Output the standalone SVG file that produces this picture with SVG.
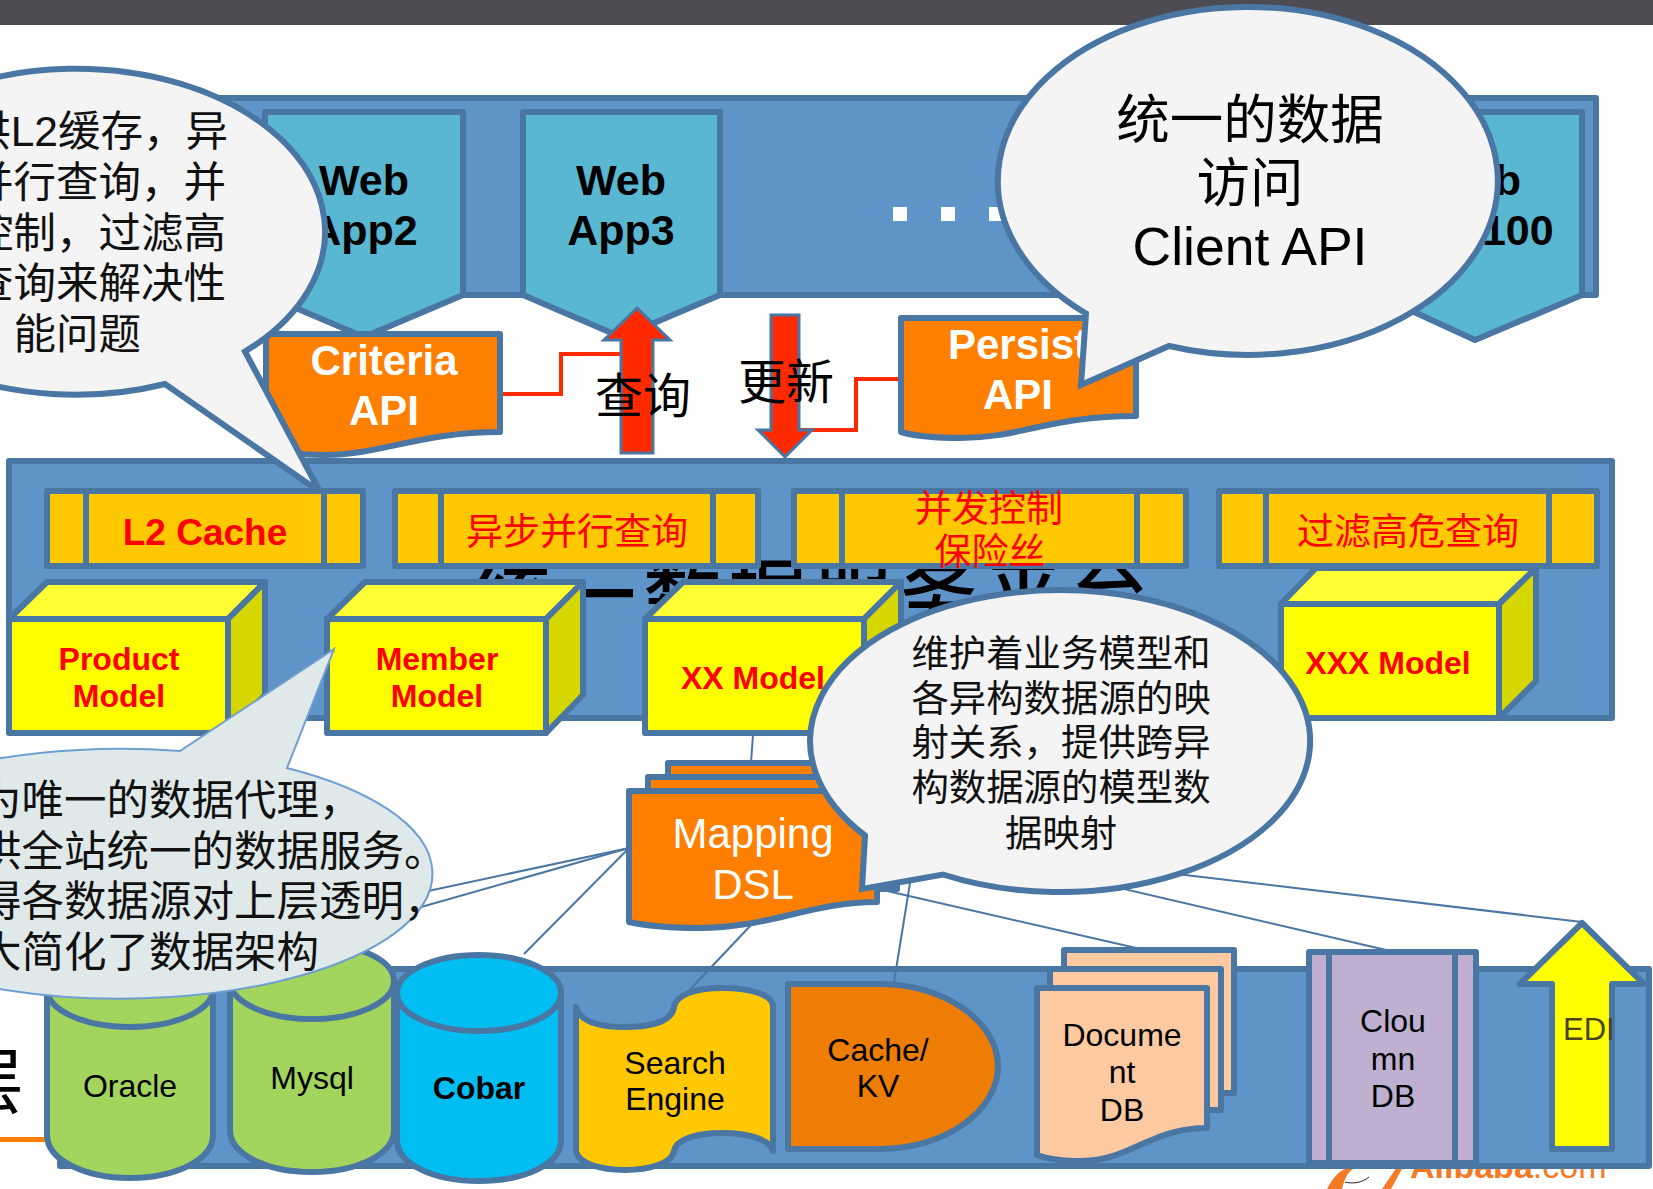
<svg xmlns="http://www.w3.org/2000/svg" width="1653" height="1189" viewBox="0 0 1653 1189">
<style>
.p{fill:#5f94c8;stroke:#4a76a3;stroke-width:6;stroke-linejoin:round}
.o{stroke:#4a76a3;stroke-width:6;stroke-linejoin:round}
.a{fill:#5ab7d1}
.or{fill:#ff7f00}
.bar{fill:#ffc800}
.bub{fill:#f4f4f4;stroke:#4a76a3;stroke-width:6;stroke-linejoin:miter}
.fr{fill:#ffff00}.tp{fill:#ffff33}.sd{fill:#d6d600}
.c{stroke:#4a76a3;stroke-width:2;fill:none}
.r{stroke:#ff2a00;stroke-width:4;fill:none}
text{font-family:"Liberation Sans","Noto Sans CJK SC",sans-serif}
.cn{font-family:"Noto Sans CJK SC","Liberation Sans",sans-serif}
.m{text-anchor:middle}
.wb{font-size:43px;font-weight:700;fill:#000}
.wh{font-size:42px;font-weight:700;fill:#fff}
.rb{font-weight:700;fill:#f00}
.k{font-size:32px;fill:#000}
.rc{font-size:37px;fill:#f00}
.bt{font-size:42.5px;fill:#111}
</style>
<rect width="1653" height="25" fill="#4d4c52"/>
<g id="alibaba-logo">
<text x="1410" y="1178" font-size="34" font-weight="700" fill="#f47a26">Alibaba<tspan font-weight="400">.com</tspan></text>
<path d="M1327 1189C1333 1177 1340 1170 1351 1166L1353 1169C1346 1174 1344 1181 1342 1189Z" fill="#f47a26"/>
<path d="M1345 1182C1352 1184 1362 1183 1369 1177" fill="none" stroke="#222" stroke-width="1"/>
<path d="M1397 1167H1403L1391 1189H1382Z" fill="#f47a26"/>
</g>
<rect x="0" y="1137" width="48" height="5" fill="#ff8000"/>
<text class="cn" x="24" y="1107" font-size="72" text-anchor="end" fill="#000">层</text>
<g id="top-panel">
<rect class="p" x="200" y="98" width="1396" height="197"/>
</g>
<g id="webapp2"><path class="a o" d="M265 112H463V295L364 337L265 295Z"/>
<text class="wb m" x="364" y="195">Web</text><text class="wb m" x="364" y="245">App2</text></g>
<g id="webapp3"><path class="a o" d="M523 112H720V295L621 337L523 295Z"/>
<text class="wb m" x="621" y="195">Web</text><text class="wb m" x="621" y="245">App3</text></g>
<g id="webapp100"><path class="a o" d="M1377 112H1582V295L1475 340L1377 295Z"/>
<text class="wb m" x="1476" y="195">Web</text><text class="wb m" x="1476" y="245">App100</text></g>
<g id="dots" fill="#fff"><rect x="893" y="207" width="14" height="14"/><rect x="941" y="207" width="14" height="14"/><rect x="989" y="207" width="14" height="14"/></g>
<g id="red-connectors">
<path class="r" d="M500 394H561V354H625"/>
<path class="r" d="M800 430H856V379H901"/>
</g>
<g id="criteria-api"><path class="or o" d="M266 334H500V432C420 432 380 455 325 455C300 455 280 452 266 446Z"/>
<text class="wh m" x="384" y="375">Criteria</text><text class="wh m" x="384" y="425">API</text></g>
<g id="persist-api"><path class="or o" d="M901 318H1136V416C1050 416 1020 438 961 438C935 438 915 436 901 432Z"/>
<text class="wh m" x="1018" y="359">Persist</text><text class="wh m" x="1018" y="409">API</text></g>
<g id="arrow-query"><path d="M637 308L670 340H653V453H621V340H604Z" fill="#ff2a00" stroke="#4a76a3" stroke-width="3"/></g>
<g id="arrow-update"><path d="M771 315H799V430H812L785 457L758 430H771Z" fill="#ff2a00" stroke="#4a76a3" stroke-width="3"/></g>
<text class="cn m" x="643" y="413" font-size="48" fill="#000">查询</text>
<text class="cn m" x="786" y="399" font-size="48" fill="#000">更新</text>
<g id="mid-panel"><rect class="p" x="9" y="461" width="1603" height="257"/>
<text class="cn m" x="814" y="624" font-size="78" font-weight="500" letter-spacing="7.3" fill="#000">统一数据服务平台</text></g>
<g id="bar-l2"><rect class="bar o" x="47" y="491" width="316" height="75"/><path class="o" d="M86 491V566M324 491V566"/>
<text class="rb m" x="205" y="545" font-size="37">L2 Cache</text></g>
<g id="bar-async"><rect class="bar o" x="395" y="491" width="363" height="75"/><path class="o" d="M441 491V566M713 491V566"/>
<text class="cn rc m" x="577" y="545">异步并行查询</text></g>
<g id="bar-concurrency"><rect class="bar o" x="794" y="491" width="392" height="75"/><path class="o" d="M842 491V566M1137 491V566"/>
<text class="cn rc m" x="989" y="522">并发控制</text><text class="cn rc m" x="990" y="565">保险丝</text></g>
<g id="bar-filter"><rect class="bar o" x="1219" y="491" width="378" height="75"/><path class="o" d="M1266 491V566M1549 491V566"/>
<text class="cn rc m" x="1408" y="545">过滤高危查询</text></g>
<g id="model-product"><path class="tp o" d="M9 619L47 582H265L228 619Z"/><path class="sd o" d="M228 619L265 582V695L228 733Z"/><rect class="fr o" x="9" y="619" width="219" height="114"/>
<text class="rb m" font-size="32" x="119" y="670">Product</text><text class="rb m" font-size="32" x="119" y="707">Model</text></g>
<g id="model-member"><path class="tp o" d="M327 619L365 582H583L546 619Z"/><path class="sd o" d="M546 619L583 582V695L546 733Z"/><rect class="fr o" x="327" y="619" width="219" height="114"/>
<text class="rb m" font-size="32" x="437" y="670">Member</text><text class="rb m" font-size="32" x="437" y="707">Model</text></g>
<g id="model-xx"><path class="tp o" d="M645 619L683 582H901L864 619Z"/><path class="sd o" d="M864 619L901 582V695L864 733Z"/><rect class="fr o" x="645" y="619" width="219" height="114"/>
<text class="rb m" font-size="32" x="753" y="689">XX Model</text></g>
<g id="model-xxx"><path class="tp o" d="M1281 604L1316 568H1536L1499 604Z"/><path class="sd o" d="M1499 604L1536 568V681L1499 718Z"/><rect class="fr o" x="1281" y="604" width="218" height="114"/>
<text class="rb m" font-size="32" x="1388" y="674">XXX Model</text></g>
<g id="bottom-panel"><rect class="p" x="60" y="969" width="1589" height="197"/></g>
<g id="connectors">
<path class="c" d="M753 735L750 776"/>
<path class="c" d="M629 848L400 897"/>
<path class="c" d="M629 848L400 913"/>
<path class="c" d="M629 848L524 954"/>
<path class="c" d="M752 924L683 997"/>
<path class="c" d="M910 883L894 982"/>
<path class="c" d="M848 882L1145 950"/>
<path class="c" d="M1000 860L1386 950"/>
<path class="c" d="M1100 865L1582 922"/>
</g>
<g id="mapping-dsl">
<rect class="or o" x="668" y="763" width="247" height="110"/>
<rect class="or o" x="648" y="777" width="249" height="112"/>
<path class="or o" d="M629 791H877V902C810 902 770 928 699 928C670 928 648 926 629 922Z"/>
<text class="m" x="753" y="848" font-size="42" fill="#fff">Mapping</text><text class="m" x="753" y="899" font-size="42" fill="#fff">DSL</text></g>
<g id="oracle"><path d="M47 989V1135C47 1160 85 1178 130 1178S213 1160 213 1135V989Z" fill="#a2d45e" class="o"/><ellipse cx="130" cy="989" rx="83" ry="38" fill="#a2d45e" class="o"/>
<text class="k m" x="130" y="1097">Oracle</text></g>
<g id="mysql"><path d="M230 981V1130C230 1155 268 1172 312 1172S394 1155 394 1130V981Z" fill="#a2d45e" class="o"/><ellipse cx="312" cy="981" rx="82" ry="38" fill="#a2d45e" class="o"/>
<text class="k m" x="312" y="1089">Mysql</text></g>
<g id="cobar"><path d="M397 993V1140C397 1165 435 1181 479 1181S561 1165 561 1140V993Z" fill="#00bdf2" class="o"/><ellipse cx="479" cy="993" rx="82" ry="38" fill="#00bdf2" class="o"/>
<text class="k m" x="479" y="1099" font-weight="700">Cobar</text></g>
<g id="search-engine"><path d="M576 1007C580 1022 600 1027 625 1027C655 1027 672 1020 674 1007C676 995 695 988 722 988C752 988 773 995 773 1007V1151C770 1140 750 1133 722 1133C695 1133 676 1140 674 1151C672 1163 650 1170 625 1170C600 1170 578 1163 576 1151Z" fill="#ffc800" class="o"/>
<text class="k m" x="675" y="1074">Search</text><text class="k m" x="675" y="1110">Engine</text></g>
<g id="cache-kv"><path d="M788 984H880C945 984 998 1022 998 1066C998 1111 945 1149 880 1149H788Z" fill="#ed7d05" class="o"/>
<text class="k m" x="878" y="1061">Cache/</text><text class="k m" x="878" y="1097">KV</text></g>
<g id="document-db">
<rect x="1064" y="950" width="170" height="143" fill="#fcc9a0" class="o"/>
<rect x="1050" y="969" width="171" height="141" fill="#fcc9a0" class="o"/>
<path d="M1037 988H1207V1128C1150 1128 1130 1161 1082 1161C1065 1161 1050 1160 1037 1155Z" fill="#fcc9a0" class="o"/>
<text class="k m" x="1122" y="1046">Docume</text><text class="k m" x="1122" y="1083">nt</text><text class="k m" x="1122" y="1121">DB</text></g>
<g id="column-db"><rect x="1309" y="952" width="167" height="211" fill="#bfb0d1" class="o"/><path class="o" d="M1329 952V1163M1455 952V1163"/>
<text class="k m" x="1393" y="1032">Clou</text><text class="k m" x="1393" y="1070">mn</text><text class="k m" x="1393" y="1107">DB</text></g>
<g id="edi"><path d="M1582 923L1644 984H1612V1149H1552V984H1520Z" fill="#ffff00" class="o"/>
<text x="1563" y="1040" font-size="31" fill="#4a4320">EDI</text></g>
<g id="bubble-left"><path class="bub" d="M243 351.5A249 163 0 1 0 163 384L318 492Z" transform="translate(2 0)"/>
<g class="cn bt" text-anchor="end"><text x="228" y="146">供L2缓存，异</text><text x="226" y="197">并行查询，并</text><text x="226" y="248">控制，过滤高</text><text x="226" y="298">查询来解决性</text><text x="141" y="349">能问题</text></g></g>
<g id="bubble-client"><path class="bub" d="M1086 313.5A250 174 0 1 1 1169 346L1081 385Z"/>
<text class="cn m" x="1250" y="139" font-size="53.5" fill="#000">统一的数据</text><text class="cn m" x="1250" y="202" font-size="53.5" fill="#000">访问</text><text class="m" x="1250" y="265" font-size="53.5" fill="#000">Client API</text></g>
<g id="bubble-proxy"><path d="M180 751A312 125 0 1 0 287 768L334 649Z" fill="#dfe9ea" stroke="#6f9ed0" stroke-width="2"/>
<g class="cn bt"><text x="-21" y="815">为唯一的数据代理，</text><text x="-21" y="866">供全站统一的数据服务。</text><text x="-21" y="916">得各数据源对上层透明，</text><text x="-21" y="967">大简化了数据架构</text></g></g>
<g id="bubble-mapping"><path class="bub" d="M865 835.5A250 151 0 1 1 943 874.5L862 889Z"/>
<g class="cn m" font-size="37.4" fill="#111"><text x="1061" y="667">维护着业务模型和</text><text x="1061" y="712">各异构数据源的映</text><text x="1061" y="756">射关系，提供跨异</text><text x="1061" y="801">构数据源的模型数</text><text x="1061" y="847">据映射</text></g></g>
</svg>
